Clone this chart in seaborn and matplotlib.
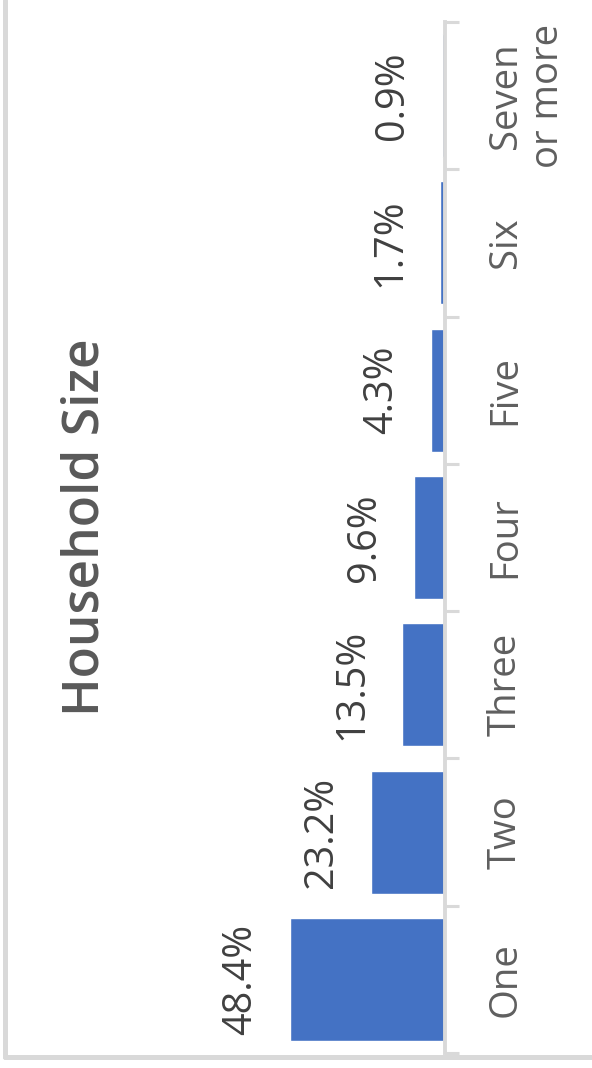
import matplotlib
matplotlib.use("Agg")
import matplotlib.pyplot as plt
import seaborn as sns
import pandas as pd
from matplotlib.lines import Line2D

categories = ["One", "Two", "Three", "Four", "Five", "Six", "Seven\nor more"]
shares = [48.4, 23.2, 13.5, 9.6, 4.3, 1.7, 0.9]
value_labels = ["48.4%", "23.2%", "13.5%", "9.6%", "4.3%", "1.7%", "0.9%"]
title = "Household Size"

sns.set_theme(style="white")
plt.rcParams["font.family"] = ["Open Sans", "DejaVu Sans"]

W, H = 592, 1068
fig = plt.figure(figsize=(W / 100, H / 100), dpi=100)

# axes placement in pixels
ax_left, ax_right, ax_top, ax_bottom = 100, 445, 22, 1053
ax = fig.add_axes([ax_left / W, 1 - ax_bottom / H, (ax_right - ax_left) / W, (ax_bottom - ax_top) / H])

df = pd.DataFrame({"cat": categories, "share": shares})
sns.barplot(data=df, y="cat", x="share", order=categories, orient="h",
            color="#4472C4", saturation=1, width=0.835, ax=ax)

px_per_unit = 3.197
xmax = (ax_right - ax_left) / px_per_unit
ax.set_xlim(xmax, 0)
ax.set_ylim(-0.5, len(categories) - 0.5)  # One at bottom

for s in ["left", "top", "bottom"]:
    ax.spines[s].set_visible(False)
ax.spines["right"].set_color("#d9d9d9")
ax.spines["right"].set_linewidth(2.8)

ax.set_xticks([])
ax.set_xlabel("")
ax.set_ylabel("")
ax.yaxis.tick_right()
ax.set_yticks(range(len(categories)))
ax.set_yticklabels(categories, rotation=90, va="center", ha="left",
                   multialignment="center", fontsize=27.5, color="#5f5f5f",
                   linespacing=1.15)
ax.tick_params(axis="y", which="major", length=0, pad=30)
ax.set_yticks([i - 0.5 for i in range(len(categories) + 1)], minor=True)
ax.tick_params(axis="y", which="minor", right=True, left=False, length=10,
               width=2.2, color="#d9d9d9", direction="out")

for i, (v, lab) in enumerate(zip(shares, value_labels)):
    ax.annotate(lab, xy=(v, i), xytext=(-29 * 0.72, 0), textcoords="offset points",
                rotation=90, ha="right", va="center", fontsize=28.5, color="#404040")

fig.text(86 / W, 1 - 527 / H, title, rotation=90, ha="center", va="center",
         fontsize=37, fontweight="semibold", color="#595959")

# outer chart frame (left and bottom edges visible)
fig.add_artist(Line2D([5.0 / W, 5.0 / W], [1 - 1057 / H, 1.0], transform=fig.transFigure,
                      color="#d9d9d9", linewidth=3.6))
fig.add_artist(Line2D([5.0 / W, 1.0], [1 - 1057 / H, 1 - 1057 / H], transform=fig.transFigure,
                      color="#d9d9d9", linewidth=3.6))

fig.savefig("out.png", dpi=100)
